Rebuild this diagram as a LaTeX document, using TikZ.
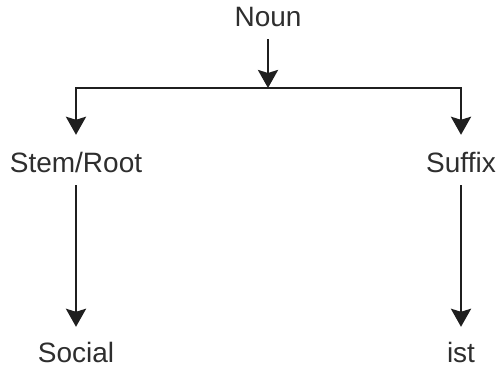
\documentclass[tikz,border=0pt]{standalone}
\usepackage{fontspec}
\setmainfont{Liberation Sans}
\usetikzlibrary{arrows.meta}
\begin{document}
\begin{tikzpicture}[x=1pt,y=1pt,
  lbl/.style={inner sep=0pt, text height=20pt, text depth=0pt, font=\fontsize{28}{30}\selectfont, text=black!82},
  conn/.style={line width=2.8pt, draw=black!88},
  arr/.style={conn, -{Stealth[length=18pt,width=20pt,inset=3pt]}}]
\useasboundingbox (0,0) rectangle (497,370);
\node[lbl] (noun) at (268,353) {Noun};
\coordinate (j) at (268,282);
\node[lbl] (stem) at (76,208) {Stem/Root};
\node[lbl] (suffix) at (461,208) {Suffix};
\node[lbl] (social) at (76,18) {Social};
\node[lbl] (ist) at (461,18) {ist};
\draw[arr, shorten <=12pt] (noun) -- (j);
\draw[arr, shorten >=17pt] (j) -| (stem);
\draw[arr, shorten >=17pt] (j) -| (suffix);
\draw[arr, shorten <=13pt, shorten >=15pt] (stem) -- (social);
\draw[arr, shorten <=13pt, shorten >=15pt] (suffix) -- (ist);
\end{tikzpicture}
\end{document}
